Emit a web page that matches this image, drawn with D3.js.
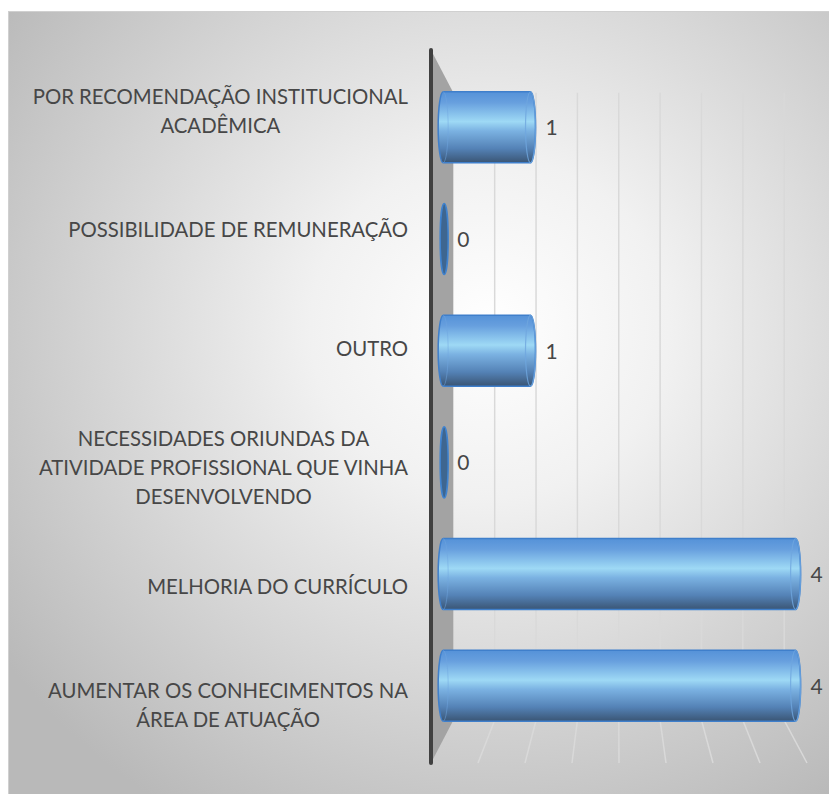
<!DOCTYPE html>
<html lang="pt">
<head>
<meta charset="UTF-8">
<title>Motivos</title>
<script src="https://d3js.org/d3.v7.min.js"></script>
<style>
  body { margin: 0; background: #ffffff; }
  svg { display: block; }
  text { font-family: Lato, "Open Sans", sans-serif; fill: #474747; }
</style>
</head>
<body>
<svg id="chart" width="829" height="794"></svg>
<script>
// data
const categoryLines = [
  ["POR RECOMENDAÇÃO INSTITUCIONAL", "ACADÊMICA"],
  ["POSSIBILIDADE DE REMUNERAÇÃO"],
  ["OUTRO"],
  ["NECESSIDADES ORIUNDAS DA", "ATIVIDADE PROFISSIONAL QUE VINHA", "DESENVOLVENDO"],
  ["MELHORIA DO CURRÍCULO"],
  ["AUMENTAR OS CONHECIMENTOS NA", "ÁREA DE ATUAÇÃO"]
];
const values = [1, 0, 1, 0, 4, 4];
const gridValues = [0.5, 1, 1.5, 2, 2.5, 3, 3.5, 4];

const svg = d3.select("#chart");
const defs = svg.append("defs");

// background gradient
const bg = defs.append("radialGradient").attr("id", "bg")
  .attr("cx", "0.58").attr("cy", "0.4").attr("r", "0.72");
bg.append("stop").attr("offset", "0").attr("stop-color", "#ffffff");
bg.append("stop").attr("offset", "0.3").attr("stop-color", "#f1f1f1");
bg.append("stop").attr("offset", "1").attr("stop-color", "#b9b9b9");

// cylinder gradient
const cyl = defs.append("linearGradient").attr("id", "cyl")
  .attr("x1", 0).attr("y1", 0).attr("x2", 0).attr("y2", 1);
[["0", "#5592d8"], ["0.15", "#679fde"], ["0.42", "#9ed9f5"], ["0.55", "#7bb2e2"],
 ["0.8", "#5482b6"], ["1", "#3a5574"]].forEach(s =>
  cyl.append("stop").attr("offset", s[0]).attr("stop-color", s[1]));

svg.append("rect")
  .attr("x", 8.5).attr("y", 11.5).attr("width", 830).attr("height", 790)
  .attr("fill", "url(#bg)").attr("stroke", "#d0d0d0");

// perspective: front plane x/y, depth 0 (front) .. 1 (back)
const vp = [617, 407];
const shrink = 0.12;
function proj(xf, yf, d) {
  const s = 1 - shrink * d;
  return [vp[0] + (xf - vp[0]) * s, vp[1] + (yf - vp[1]) * s];
}

const x = d3.scaleLinear().domain([0, 4]).range([431, 807]);
const y = d3.scaleBand().domain(d3.range(categoryLines.length))
  .range([50, 763]).paddingInner(0.364).paddingOuter(0.182);
const yTop = 50, yBot = 763;

// left wall
const wall = [proj(x(0), yTop, 0), proj(x(0), yTop, 1), proj(x(0), yBot, 1), proj(x(0), yBot, 0)];
svg.append("path")
  .attr("d", d3.line()(wall) + "Z")
  .attr("fill", "#a3a3a3");

// back wall and floor gridlines
const grid = svg.append("g").attr("stroke", "#d9d9d9").attr("stroke-width", 1.5).attr("fill", "none");
gridValues.forEach(v => {
  const a = proj(x(v), yTop, 1), b = proj(x(v), yBot, 1), c = proj(x(v), yBot, 0);
  grid.append("line").attr("x1", a[0]).attr("y1", a[1]).attr("x2", b[0]).attr("y2", b[1]);
  grid.append("line").attr("x1", b[0]).attr("y1", b[1]).attr("x2", c[0]).attr("y2", c[1]);
});

// front edge of the wall (axis line)
svg.append("line")
  .attr("x1", x(0)).attr("y1", yTop).attr("x2", x(0)).attr("y2", yBot)
  .attr("stroke", "#404040").attr("stroke-width", 4).attr("stroke-linecap", "round");

// bars (cylinders at mid depth)
const depth = 0.5;
const rx = 5;
const bars = svg.append("g");
values.forEach((v, i) => {
  const p0 = proj(x(0), y(i), depth);
  const p1 = proj(x(v), y(i) + y.bandwidth(), depth);
  const x0 = p0[0] + 1, top = p0[1], x1 = p1[0], bot = p1[1];
  const ry = (bot - top) / 2;
  if (v === 0) {
    bars.append("ellipse")
      .attr("cx", x0 + 1).attr("cy", (top + bot) / 2).attr("rx", rx - 1).attr("ry", ry)
      .attr("fill", "#3e6690").attr("stroke", "#3f83d0").attr("stroke-width", 1.5);
    return;
  }
  bars.append("path")
    .attr("d", `M${x0},${top}L${x1},${top}A${rx},${ry} 0 0 1 ${x1},${bot}L${x0},${bot}A${rx},${ry} 0 0 1 ${x0},${top}Z`)
    .attr("fill", "url(#cyl)").attr("stroke", "#3f7fcb").attr("stroke-width", 1.5);
  bars.append("ellipse")
    .attr("cx", x1).attr("cy", (top + bot) / 2).attr("rx", rx).attr("ry", ry)
    .attr("fill", "none").attr("stroke", "#6fa6df").attr("stroke-width", 1.2).attr("opacity", 0.8);
  // faint inner edge near the left cap
  bars.append("path")
    .attr("d", `M${x0},${top}A${rx},${ry} 0 0 1 ${x0},${bot}`)
    .attr("fill", "none").attr("stroke", "#6fa6df").attr("stroke-width", 1).attr("opacity", 0.5);
});

// value labels
values.forEach((v, i) => {
  const p = proj(x(v), y(i) + y.bandwidth() / 2, depth);
  svg.append("text")
    .attr("x", p[0] + 15).attr("y", p[1])
    .attr("dy", "0.38em")
    .attr("font-size", 21)
    .text(v);
});

// category labels: block right aligned to the axis, lines centred inside
const fontSize = 20;
const lineH = 29;
const labels = svg.append("g").attr("font-size", fontSize);
// fit the font so the longest single line matches the reference width
const probe = labels.append("text").text("POSSIBILIDADE DE REMUNERAÇÃO");
const scaleF = 340 / probe.node().getComputedTextLength();
probe.remove();
labels.attr("font-size", fontSize * scaleF);

categoryLines.forEach((lines, i) => {
  const cy = y(i) + y.bandwidth() / 2;
  const t = labels.append("text").attr("text-anchor", "middle");
  const spans = lines.map((ln, k) => t.append("tspan")
    .attr("y", cy + (k - (lines.length - 1) / 2) * lineH)
    .attr("dy", "0.45em").text(ln));
  const w = d3.max(spans, s => s.node().getComputedTextLength());
  spans.forEach(s => s.attr("x", 408 - w / 2));
});
</script>
</body>
</html>
